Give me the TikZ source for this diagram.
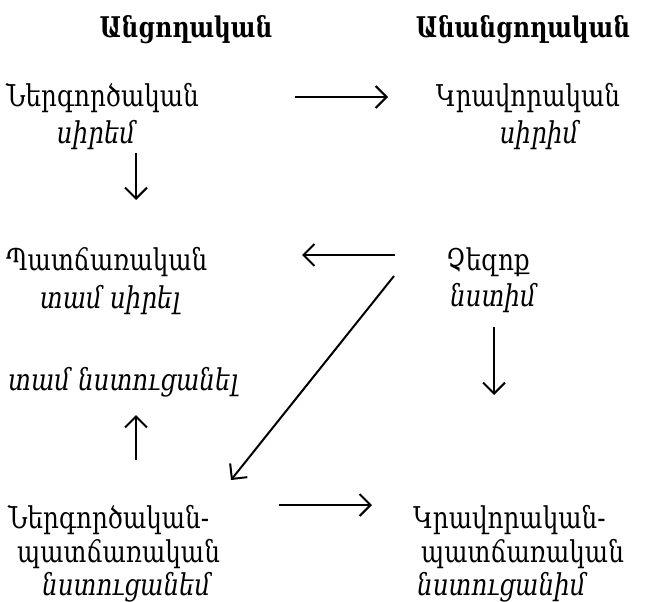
\documentclass[tikz,border=0pt]{standalone}
\usepackage{fontspec}
\setmainfont{DejaVu Serif}[FakeStretch=0.82]
\usetikzlibrary{arrows.meta}
\tikzset{
  lbl/.style={inner sep=0pt, font=\fontsize{30}{34}\selectfont},
  verb/.style={inner sep=0pt, font=\fontsize{30}{34}\selectfont\itshape},
  head/.style={inner sep=0pt, font=\fontsize{28.5}{32}\selectfont\bfseries},
  arr/.style={-{Straight Barb[length=11pt,width=22pt,line width=2pt]}, line width=2pt}
}
\begin{document}
\begin{tikzpicture}[x=1pt,y=-1pt]
\useasboundingbox (0,0) rectangle (645,602);
% column headings
\node[head] (hTr) at (186,30) {Անցողական};
\node[head] (hIn) at (523,30) {Անանցողական};
% top row
\node[lbl, anchor=west] (act) at (6,98) {Ներգործական};
\node[verb] (actV) at (96,135) {սիրեմ};
\node[lbl] (pas) at (528,98) {Կրավորական};
\node[verb] (pasV) at (539,135) {սիրիմ};
% middle row
\node[lbl, anchor=west] (cau) at (6,262) {Պատճառական};
\node[verb] (cauV) at (110,300) {տամ սիրել};
\node[lbl] (neu) at (488,262) {Չեզոք};
\node[verb] (neuV) at (493,298) {նստիմ};
\node[verb, anchor=west] (cauL) at (8,382) {տամ նստուցանել};
% bottom row
\node[lbl, anchor=west] (ac1) at (8,520) {Ներգործական-};
\node[lbl, anchor=west] (ac2) at (17,554) {պատճառական};
\node[verb, anchor=base west] (ac3) at (42,595) {նստուցանեմ};
\node[lbl, anchor=west] (pc1) at (413,520) {Կրավորական-};
\node[lbl, anchor=west] (pc2) at (421,554) {պատճառական};
\node[verb, anchor=base west] (pc3) at (417,595) {նստուցանիմ};
% connectors
\coordinate (c1) at (295,97);  \coordinate (c2) at (388,97);
\draw[arr] (c1) -- (c2);
\coordinate (c3) at (136,153); \coordinate (c4) at (136,200);
\draw[arr] (c3) -- (c4);
\coordinate (c5) at (395,255); \coordinate (c6) at (302,255);
\draw[arr] (c5) -- (c6);
\coordinate (c7) at (394,276); \coordinate (c8) at (231,480);
\draw[arr] (c7) -- (c8);
\coordinate (c9) at (494,327); \coordinate (c10) at (494,395);
\draw[arr] (c9) -- (c10);
\coordinate (c11) at (136,460); \coordinate (c12) at (136,415);
\draw[arr] (c11) -- (c12);
\coordinate (c13) at (279,505); \coordinate (c14) at (372,505);
\draw[arr] (c13) -- (c14);
\end{tikzpicture}
\end{document}
